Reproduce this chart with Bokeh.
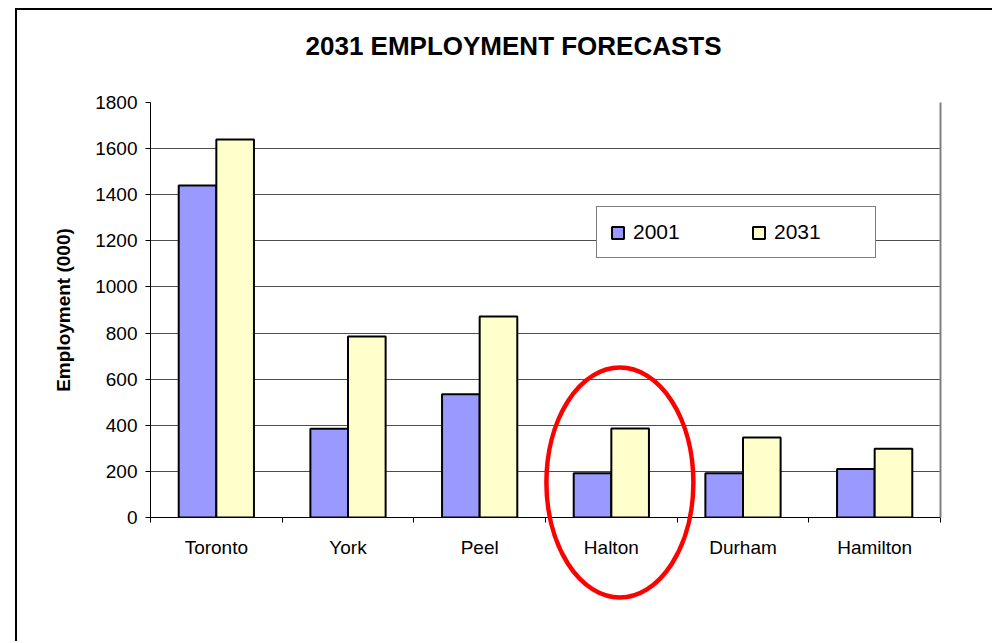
from bokeh.plotting import figure
from bokeh.models import (Range1d, FixedTicker, LinearAxis, Legend, LegendItem,
                          Title, ColumnDataSource)
from bokeh.transform import dodge
from bokeh.embed import file_html
from bokeh.resources import INLINE

# ---------------- data ----------------
title_text = "2031 EMPLOYMENT FORECASTS"
y_label = "Employment (000)"
categories = ["Toronto", "York", "Peel", "Halton", "Durham", "Hamilton"]
series_names = ["2001", "2031"]
emp_2001 = [1440, 385, 535, 192, 192, 210]
emp_2031 = [1640, 785, 872, 386, 347, 298]
y_ticks = [0, 200, 400, 600, 800, 1000, 1200, 1400, 1600, 1800]
highlight = "Halton"

# ---------------- style ----------------
FONT = "Liberation Sans"
C2001 = "#9999FF"
C2031 = "#FFFFCC"
GRID = "#4d4d4d"
BAR_W = 1 / 3.5          # Excel gap width 150 %
ELL_DX = 0.065           # ellipse drawn slightly right of the category centre

x_center = [i + 0.5 for i in range(len(categories))]
src = ColumnDataSource(dict(x=x_center, cat=categories, y2001=emp_2001, y2031=emp_2031))

p = figure(frame_width=790, frame_height=415,
           x_range=Range1d(0, len(categories)), y_range=Range1d(0, y_ticks[-1]),
           output_backend="svg", toolbar_location=None,
           min_border_left=133, min_border_top=92, min_border_right=52, min_border_bottom=124,
           background_fill_color="white", border_fill_color="white",
           outline_line_color=None)
p.styles = {"margin-left": "15px", "margin-top": "8px",
            "border-left": "2px solid black", "border-top": "2px solid black"}

r1 = p.vbar(x=dodge("x", -BAR_W / 2, range=p.x_range), top="y2001", width=BAR_W, source=src,
            fill_color=C2001, line_color="black", line_width=2)
r2 = p.vbar(x=dodge("x", BAR_W / 2, range=p.x_range), top="y2031", width=BAR_W, source=src,
            fill_color=C2031, line_color="black", line_width=2)

# grid
p.xgrid.visible = False
p.ygrid.ticker = FixedTicker(ticks=y_ticks)
p.ygrid.grid_line_color = GRID
p.ygrid.grid_line_width = 1

# y axis
yax = p.yaxis[0]
yax.ticker = FixedTicker(ticks=y_ticks)
yax.axis_line_color = "black"
yax.major_tick_out = 5
yax.major_tick_in = 0
yax.minor_tick_line_color = None
yax.major_label_text_font = FONT
yax.major_label_text_font_size = "19px"
yax.major_label_text_color = "black"
yax.major_label_standoff = 8
yax.axis_label = y_label
yax.axis_label_text_font = FONT
yax.axis_label_text_font_style = "bold"
yax.axis_label_text_font_size = "19px"
yax.axis_label_text_color = "black"
yax.axis_label_standoff = 18

# x axis: labels at category centres, ticks at category boundaries
xax = p.xaxis[0]
xax.ticker = FixedTicker(ticks=x_center, minor_ticks=list(range(len(categories) + 1)))
xax.major_label_overrides = {x: c for x, c in zip(x_center, categories)}
xax.axis_line_color = "black"
xax.major_tick_out = 0
xax.major_tick_in = 0
xax.minor_tick_out = 5
xax.minor_tick_in = 0
xax.minor_tick_line_color = "black"
xax.major_label_text_font = FONT
xax.major_label_text_font_size = "19px"
xax.major_label_text_color = "black"
xax.major_label_standoff = 14

# right border of the plot area
rax = LinearAxis(ticker=FixedTicker(ticks=[]), axis_line_color="#808080", axis_line_width=2,
                 major_tick_line_color=None, minor_tick_line_color=None,
                 major_label_text_font_size="0px")
p.add_layout(rax, "right")

# highlight ellipse around one category
hx = categories.index(highlight) + 0.5 + ELL_DX
p.ellipse(x=hx, y=152, width=147, height=230, width_units="screen", height_units="screen",
          fill_color=None, line_color="#FF0000", line_width=4.5, level="overlay")

# title (a small spacer keeps it at the right distance above the plot area)
spacer = Title(text=" ", text_font_size="10px", standoff=29)
p.add_layout(spacer, "above")
main_title = Title(text=title_text, align="left", offset=155, vertical_align="bottom", standoff=0,
                   text_font=FONT, text_font_style="bold", text_font_size="26px",
                   text_color="black")
p.add_layout(main_title, "above")

# legend
legend = Legend(items=[LegendItem(label=series_names[0], renderers=[r1]),
                       LegendItem(label=series_names[1], renderers=[r2])],
                orientation="horizontal", location=(446, 259),
                border_line_color="black", border_line_width=1,
                background_fill_color="white", background_fill_alpha=1,
                padding=13, spacing=30, margin=0,
                glyph_width=15, glyph_height=15, label_standoff=8,
                label_width=88, label_height=19,
                label_text_font=FONT, label_text_font_size="21px", label_text_color="black")
p.add_layout(legend, "center")

open("out.html", "w").write(file_html(p, INLINE))
